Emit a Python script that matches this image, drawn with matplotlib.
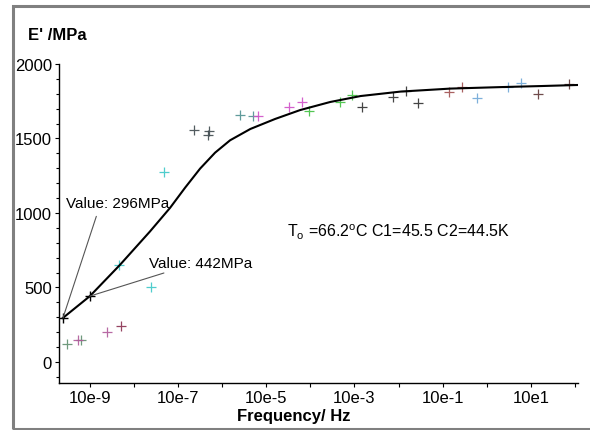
import numpy as np
import matplotlib
matplotlib.use('Agg')
import matplotlib.pyplot as plt
from matplotlib.patches import Rectangle
from matplotlib.ticker import FixedLocator, FixedFormatter, NullFormatter

plt.rcParams['font.family'] = ['Liberation Sans', 'DejaVu Sans']

# fitted master curve (log10 of frequency, E' in MPa)
curve_logf = [-9.61, -9.0, -8.32, -7.64, -7.41, -7.18, -6.84, -6.50, -6.16,
              -5.82, -5.36, -4.80, -4.23, -3.55, -2.86, -1.95, -0.82, 0.32,
              1.23, 2.05]
curve_E = [296, 442, 651, 875, 955, 1035, 1170, 1298, 1405, 1488, 1564,
           1631, 1691, 1745, 1785, 1815, 1835, 1845, 1852, 1859]

# measured points, grouped by colour (one group per shifted temperature)
pts_logf = {
    'grey_green': [-9.51, -9.20],
    'purple': [-9.28, -8.61],
    'dark_red': [-8.30],
    'cyan': [-8.34, -7.62, -7.33],
    'dark_grey': [-6.64, -6.31, -6.29],
    'teal': [-5.59, -5.29],
    'magenta': [-5.18, -4.48, -4.19],
    'green': [-4.04, -3.33, -3.05],
    'black': [-2.83, -2.12, -1.83, -1.56],
    'brown': [-0.86, -0.55],
    'light_blue': [-0.23, 0.48, 0.77],
    'dark_brown': [1.17, 1.87],
}
pts_E = {
    'grey_green': [121, 150],
    'purple': [150, 199],
    'dark_red': [240],
    'cyan': [651, 501, 1273],
    'dark_grey': [1559, 1523, 1548],
    'teal': [1658, 1653],
    'magenta': [1649, 1709, 1742],
    'green': [1686, 1742, 1792],
    'black': [1713, 1776, 1821, 1738],
    'brown': [1810, 1843],
    'light_blue': [1770, 1843, 1870],
    'dark_brown': [1799, 1866],
}
colors = {
    'grey_green': '#5f8f6f', 'purple': '#b05a9a', 'dark_red': '#8a3050',
    'cyan': '#3cc8c8', 'dark_grey': '#3f4a4f', 'teal': '#4f9090',
    'magenta': '#d050c8', 'green': '#40c040', 'black': '#303030',
    'brown': '#a05050', 'light_blue': '#70a8d8', 'dark_brown': '#603838',
}

major_ticks = [-9, -7, -5, -3, -1, 1]
major_labels = ['10e-9', '10e-7', '10e-5', '10e-3', '10e-1', '10e1']
minor_ticks = [-8, -6, -4, -2, 0, 2]

mark_logf = [-9.61, -9.0]
mark_E = [296, 442]

fig = plt.figure(figsize=(5.9, 4.31), dpi=100)
ax = fig.add_axes([59 / 590, 47 / 431, 519 / 590, 319 / 431])

for key in pts_logf:
    ax.plot(10 ** np.array(pts_logf[key]), pts_E[key], '+', color=colors[key],
            ms=6.5, mew=0.9, alpha=0.9)

ax.plot(10 ** np.array(curve_logf), curve_E, color='black', lw=1.5)
ax.plot(10 ** np.array(mark_logf), mark_E, '+', color='black', ms=7, mew=1.0)

ax.annotate('Value: 296MPa', xy=(10 ** mark_logf[0], mark_E[0]),
            xytext=(39, 83), textcoords='offset points', ha='center', va='center',
            fontsize=11,
            arrowprops=dict(arrowstyle='-', color='#555555', lw=0.8,
                            relpos=(0.32, 0), shrinkA=3, shrinkB=0))
ax.annotate('Value: 442MPa', xy=(10 ** mark_logf[1], mark_E[1]),
            xytext=(80, 24), textcoords='offset points', ha='center', va='center',
            fontsize=11,
            arrowprops=dict(arrowstyle='-', color='#555555', lw=0.8,
                            relpos=(0.24, 0), shrinkA=1, shrinkB=0))

ax.text(287 / 590, 1 - 232 / 431, r'T$_\mathregular{o}$ =66.2$^\mathregular{o}$C C1=45.5 C2=44.5K',
        transform=fig.transFigure, fontsize=11.5, va='center', ha='left')

ax.set_xscale('log')
ax.set_xlim(10 ** -9.70, 10 ** 2.07)
ax.set_ylim(-141, 2000)
ax.xaxis.set_major_locator(FixedLocator([10.0 ** t for t in major_ticks]))
ax.xaxis.set_major_formatter(FixedFormatter(major_labels))
ax.xaxis.set_minor_locator(FixedLocator([10.0 ** t for t in minor_ticks]))
ax.xaxis.set_minor_formatter(NullFormatter())
ax.set_yticks([0, 500, 1000, 1500, 2000])
ax.set_yticks(np.arange(-100, 2000, 100), minor=True)

for s in ['top', 'right']:
    ax.spines[s].set_visible(False)
for s in ['left', 'bottom']:
    ax.spines[s].set_linewidth(1.0)
ax.tick_params(which='both', direction='out', length=3, width=0.8, labelsize=12,
               pad=2)
ax.tick_params(axis='y', which='minor', length=2)

fig.text(28 / 590, 1 - 35 / 431, "E' /MPa", fontsize=12, fontweight='bold',
         va='center', ha='left')
fig.text(294 / 590, 1 - 417 / 431, 'Frequency/ Hz', fontsize=12,
         fontweight='bold', va='center', ha='center')

fig.patches.append(Rectangle((13 / 590, 1 / 431), 1.0, 423 / 431,
                             transform=fig.transFigure, fill=False,
                             edgecolor='#808080', lw=2.2))

fig.savefig('out.png', dpi=100)
